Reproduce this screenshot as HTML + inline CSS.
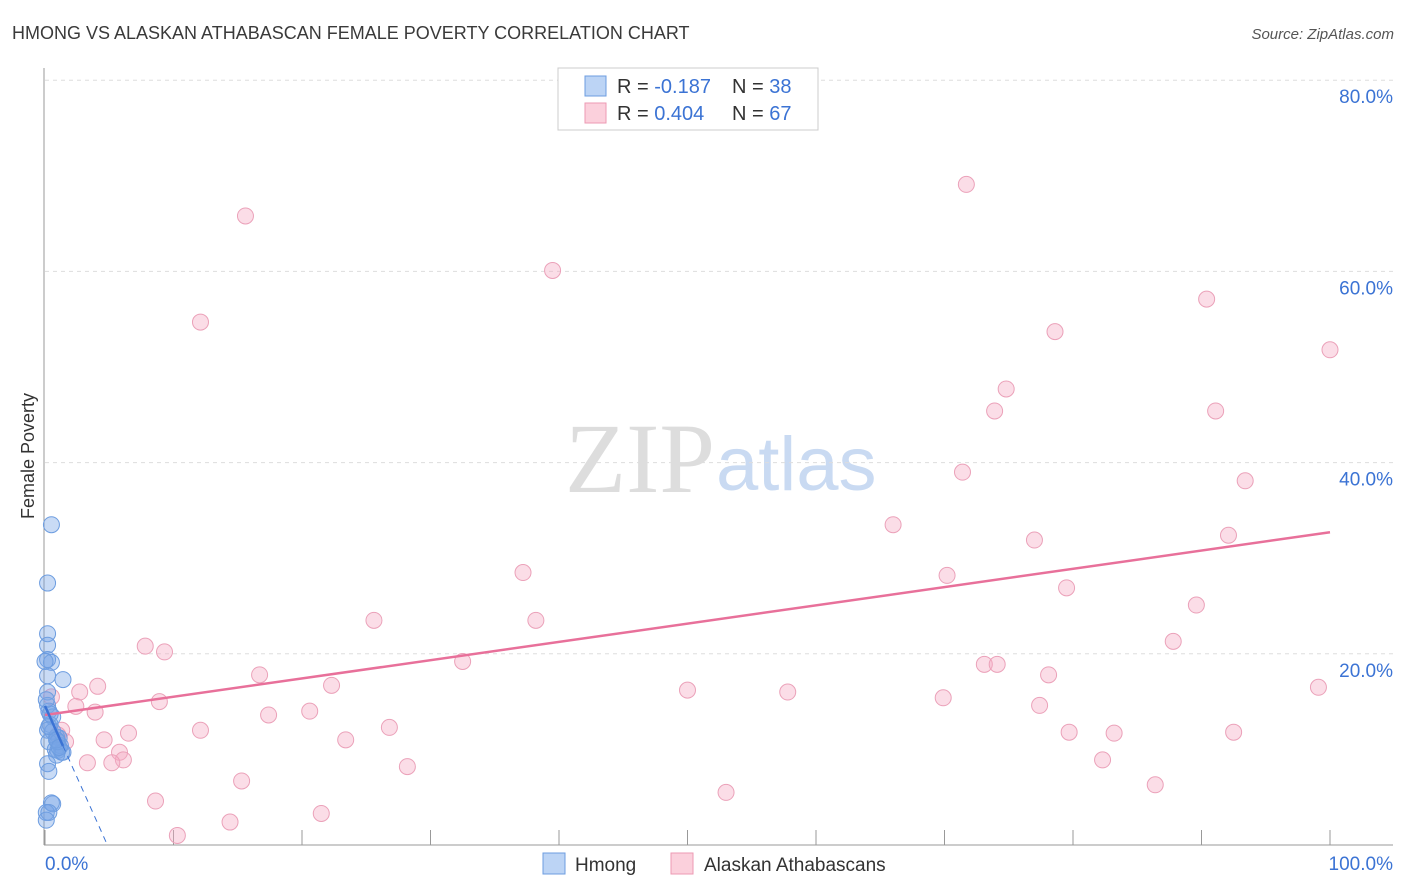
<!DOCTYPE html>
<html><head><meta charset="utf-8"><style>
body{margin:0;background:#fff;font-family:"Liberation Sans",sans-serif;}
svg{display:block}
</style></head><body>
<svg id="chart" width="1406" height="892">
<text x="12" y="39" font-size="18" fill="#3a3a3a">HMONG VS ALASKAN ATHABASCAN FEMALE POVERTY CORRELATION CHART</text>
<text x="1394" y="39" font-size="15" fill="#555" font-style="italic" text-anchor="end">Source: ZipAtlas.com</text>
<text x="715" y="492" font-size="100" fill="#ddd" text-anchor="end" font-family="Liberation Serif,serif">ZIP</text>
<text x="716" y="490" font-size="76" fill="#c9daf2">atlas</text>
<g id="grid"></g>
<g id="axes"></g>
<g id="pts"></g>
<g id="lines"></g>
<text x="34" y="456" font-size="18" fill="#333" text-anchor="middle" transform="rotate(-90 34 456)">Female Poverty</text>
<g>
<rect x="558" y="68" width="260" height="62" fill="#fff" stroke="#ccc"/>
<rect x="585" y="76" width="21" height="20" fill="#bcd4f5" stroke="#6d9de0"/>
<rect x="585" y="103" width="21" height="20" fill="#fbd0dc" stroke="#ec9ab3"/>
<text x="617" y="93" font-size="20" fill="#333">R = <tspan fill="#3b73d4">-0.187</tspan></text>
<text x="732" y="93" font-size="20" fill="#333">N = <tspan fill="#3b73d4">38</tspan></text>
<text x="617" y="120" font-size="20" fill="#333">R = <tspan fill="#3b73d4">0.404</tspan></text>
<text x="732" y="120" font-size="20" fill="#333">N = <tspan fill="#3b73d4">67</tspan></text>
</g>
<g>
<rect x="543" y="853" width="22" height="21" fill="#bcd4f5" stroke="#6d9de0"/>
<text x="575" y="871" font-size="19" fill="#333">Hmong</text>
<rect x="671" y="853" width="22" height="21" fill="#fbd0dc" stroke="#ec9ab3"/>
<text x="704" y="871" font-size="19" fill="#333">Alaskan Athabascans</text>
</g>
</svg>
<script>
const yTicks=[20,40,60,80];
const yTickLabels=["20.0%","40.0%","60.0%","80.0%"];
const xEndLabels=["0.0%","100.0%"];
const pinkX=[15.6,12.1,39.5,71.7,90.4,78.6,100,74.8,73.9,91.1,71.4,93.4,66.0,77.0,92.1,37.2,70.2,79.5,89.6,25.6,38.2,87.8,7.8,9.3,32.5,73.1,74.1,16.7,78.1,22.3,4.1,2.7,50.0,57.8,99.1,69.9,8.9,2.4,77.4,3.9,17.4,20.6,12.1,1.3,26.8,6.5,79.7,83.2,92.5,4.6,23.4,1.6,5.8,6.1,3.3,5.2,82.3,28.2,15.3,86.4,53.0,8.6,14.4,21.5,10.3,0.5,1.0];
const pinkY=[65.8,54.7,60.1,69.1,57.1,53.7,51.8,47.7,45.4,45.4,39.0,38.1,33.5,31.9,32.4,28.5,28.2,26.9,25.1,23.5,23.5,21.3,20.8,20.2,19.2,18.9,18.9,17.8,17.8,16.7,16.6,16.0,16.2,16.0,16.5,15.4,15.0,14.5,14.6,13.9,13.6,14.0,12.0,12.0,12.3,11.7,11.8,11.7,11.8,11.0,11.0,10.8,9.7,8.9,8.6,8.6,8.9,8.2,6.7,6.3,5.5,4.6,2.4,3.3,1.0,15.5,11.5];
const blueX=[0.5,0.2,0.2,0.2,0.2,0.5,0.0,1.4,0.2,0.2,0.2,0.3,0.6,0.4,0.2,1.1,0.9,0.6,0.3,1.2,0.8,1.0,1.3,0.9,0.2,1.4,0.6,0.5,0.1,0.3,1.0,0.3,0.9,1.1,0.1,0.4,0.3,0.1];
const blueY=[33.5,27.4,22.1,20.9,19.4,19.1,19.2,17.3,17.7,16.0,14.6,14.0,13.4,12.6,12.0,11.2,11.3,11.9,10.8,10.4,10.0,9.9,9.7,9.4,8.5,9.7,4.3,4.4,3.4,3.4,10.8,12.4,11.0,10.2,15.2,13.7,7.7,2.6];
const X=v=>45+v*12.85, Y=v=>845-v*9.56;
const ns="http://www.w3.org/2000/svg";
function mk(t,a,p){const e=document.createElementNS(ns,t);for(const k in a)e.setAttribute(k,a[k]);p.appendChild(e);return e;}
const grid=document.getElementById('grid'),axes=document.getElementById('axes'),pts=document.getElementById('pts'),lines=document.getElementById('lines');
yTicks.forEach((t,i)=>{
 const g=mk('line',{x1:45,x2:1393,y1:Y(t),y2:Y(t),stroke:'#ddd','stroke-dasharray':'4,4'},grid);
 
 
 const l=mk('text',{x:1393,y:Y(t)+23,'font-size':19,fill:'#3b73d4','text-anchor':'end'},axes);
 l.textContent=yTickLabels[i];
 
 
});
const ax=mk('line',{x1:44,x2:44,y1:68,y2:845,stroke:'#999'},axes);


const bx=mk('line',{x1:44,x2:1393,y1:845,y2:845,stroke:'#999'},axes);


for(let i=0;i<=10;i++){
 const t=mk('line',{x1:X(i*10),x2:X(i*10),y1:830,y2:845,stroke:'#999'},axes);
 
 
}
[[0,'start'],[100,'end']].forEach((d,i)=>{
 const t=mk('text',{x:i?1393:45,y:870,'font-size':19,fill:'#3b73d4','text-anchor':d[1]},axes);
 t.textContent=xEndLabels[i];
 
 
});
pinkX.forEach((x,i)=>{
 const c=mk('circle',{cx:X(x),cy:Y(pinkY[i]),r:8,fill:'rgba(246,170,195,0.4)',stroke:'#eba1b9','stroke-width':1},pts);
 
 
});
blueX.forEach((x,i)=>{
 const c=mk('circle',{cx:X(x),cy:Y(blueY[i]),r:8,fill:'rgba(120,165,230,0.4)',stroke:'#6d9de0','stroke-width':1},pts);
 
 
});
function reg(xs,ys){const n=xs.length;let mx=0,my=0;xs.forEach((x,i)=>{mx+=x;my+=ys[i];});mx/=n;my/=n;let sxy=0,sxx=0;xs.forEach((x,i)=>{sxy+=(x-mx)*(ys[i]-my);sxx+=(x-mx)*(x-mx);});const b=sxy/sxx;return [my-b*mx,b];}
const [pa,pb]=reg(pinkX,pinkY);
const pl=mk('line',{x1:X(0),y1:Y(pa),x2:X(100),y2:Y(pa+pb*100),stroke:'#e8709a','stroke-width':2.5},lines);


const [ba,bb]=reg(blueX,blueY);
const bmax=Math.max(...blueX);
const bl=mk('line',{x1:X(0),y1:Y(ba),x2:X(bmax),y2:Y(ba+bb*bmax),stroke:'#3b73d4','stroke-width':2.5},lines);


const x0=bb<0?-ba/bb:bmax;
const bd=mk('line',{x1:X(bmax),y1:Y(ba+bb*bmax),x2:X(x0),y2:Y(0),stroke:'#3b73d4','stroke-width':1,'stroke-dasharray':'6,5'},lines);


</script>
</body></html>
